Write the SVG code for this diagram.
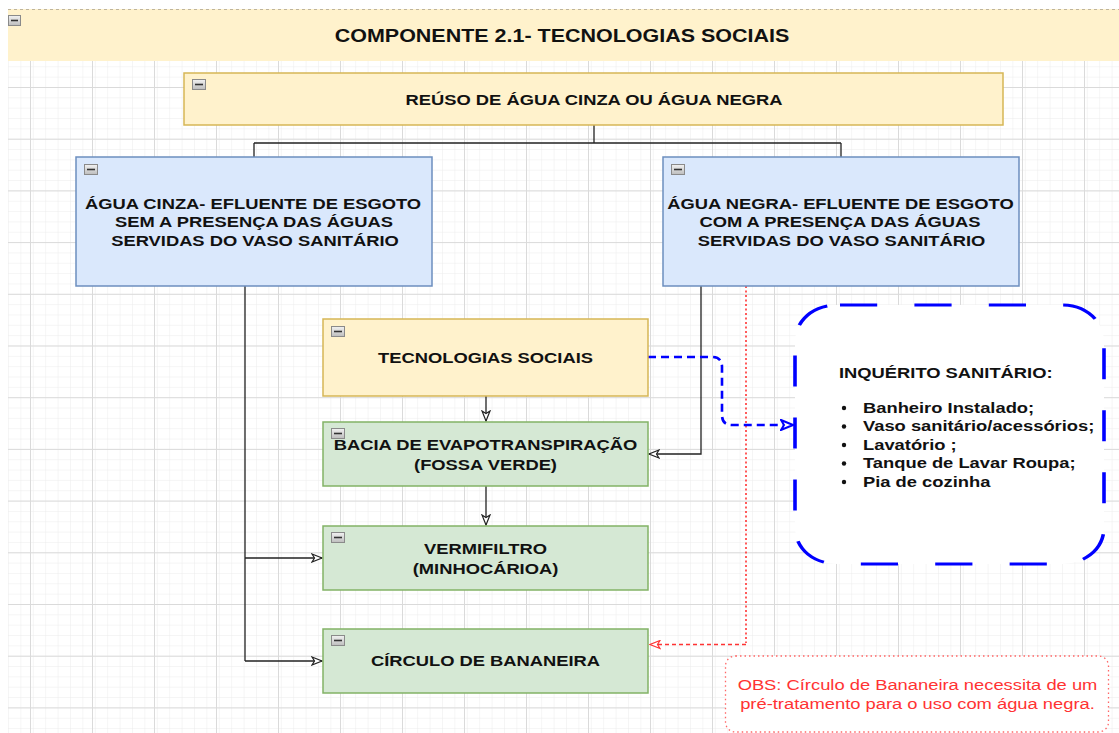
<svg xmlns="http://www.w3.org/2000/svg" width="1119" height="733" viewBox="0 0 1119 733">
<style>
.t{font-family:"Liberation Sans",Arial,sans-serif;font-weight:bold;font-size:15.3px;fill:#111;text-anchor:middle}
.tl{text-anchor:start}
.obs{font-family:"Liberation Sans",Arial,sans-serif;font-size:15.3px;fill:#ff3333;text-anchor:middle}
.yel{fill:#fff2cc;stroke:#d6b656;stroke-width:1.5}
.blu{fill:#dae8fc;stroke:#6c8ebf;stroke-width:1.5}
.grn{fill:#d5e8d4;stroke:#82b366;stroke-width:1.5}
.ic{fill:url(#icg);stroke:#8a8a8a;stroke-width:1}
.icm{stroke:#333;stroke-width:1.6}
.ln{fill:none;stroke:#222;stroke-width:1.3}
</style>
<defs>
<linearGradient id="icg" x1="0" y1="0" x2="0" y2="1"><stop offset="0" stop-color="#f2f2f2"/><stop offset="1" stop-color="#bdbdbd"/></linearGradient>
<pattern id="gmin" x="8" y="87" width="12.4" height="10.34" patternUnits="userSpaceOnUse">
<path d="M0,0 V10.34 M0,0 H12.4" fill="none" stroke="#ececec" stroke-width="1"/>
</pattern>
<pattern id="gmaj" x="30" y="87" width="62" height="51.7" patternUnits="userSpaceOnUse">
<path d="M0.5,0 V51.7 M0,0.5 H62" fill="none" stroke="#dadada" stroke-width="1"/>
</pattern>
<marker id="ab" viewBox="0 0 12 10" refX="11" refY="5" markerWidth="12" markerHeight="10" markerUnits="userSpaceOnUse" orient="auto">
<path d="M1,1 L11,5 L1,9 L3.5,5 Z" fill="#fff" stroke="#222" stroke-width="1.2"/>
</marker>
<marker id="ar" viewBox="0 0 12 10" refX="11" refY="5" markerWidth="12" markerHeight="10" markerUnits="userSpaceOnUse" orient="auto">
<path d="M1,1 L11,5 L1,9 L3.5,5 Z" fill="#fff" stroke="#ff3333" stroke-width="1.2"/>
</marker>
<marker id="abl" viewBox="0 0 14 12" refX="13" refY="6" markerWidth="14" markerHeight="12" markerUnits="userSpaceOnUse" orient="auto">
<path d="M1,1 L13,6 L1,11 L4,6 Z" fill="#fff" stroke="#0000ff" stroke-width="2"/>
</marker>
</defs>
<rect width="1119" height="733" fill="#fff"/>
<rect x="8" y="61" width="1111" height="672" fill="url(#gmin)"/>
<rect x="8" y="61" width="1111" height="672" fill="url(#gmaj)"/>

<g id="title">
<rect x="8" y="9" width="1111" height="52" fill="#fff2cc"/>
<line x1="8" y1="9.5" x2="1119" y2="9.5" stroke="#bfb49a" stroke-width="1" stroke-dasharray="3 3"/>
<rect class="ic" x="8.5" y="15.5" width="12" height="10"/><line class="icm" x1="11" y1="20.5" x2="18" y2="20.5"/>
<text class="t" transform="translate(562,41.5) scale(1.2,1)" style="font-size:17.9px">COMPONENTE 2.1- TECNOLOGIAS SOCIAIS</text>
</g>

<g id="connectors">
<path class="ln" d="M594,125 V143 M254,143 H841 M254,143 V157 M841,143 V157"/>
<path class="ln" d="M245,286 V661 M245,558 H322" marker-end="url(#ab)"/>
<path class="ln" d="M245,661 H322" marker-end="url(#ab)"/>
<path class="ln" d="M486,396 V421" marker-end="url(#ab)"/>
<path class="ln" d="M486,486 V525" marker-end="url(#ab)"/>
<path class="ln" d="M701,286 V454 H649" marker-end="url(#ab)"/>
<path d="M746,286 V643" fill="none" stroke="#ff3333" stroke-width="1.6" stroke-dasharray="2 2.5"/>
<path d="M746,644.5 H650" fill="none" stroke="#ff3333" stroke-width="1.6" stroke-dasharray="4 3" marker-end="url(#ar)"/>
<path d="M648,357 H712 Q722,357 722,367 V415 Q722,425 732,425 H793" fill="none" stroke="#0000ff" stroke-width="2.6" stroke-dasharray="8 5" marker-end="url(#abl)"/>
</g>

<g id="reuso">
<rect class="yel" x="184" y="73" width="819" height="52"/>
<rect class="ic" x="192.5" y="79.5" width="13" height="10"/><line class="icm" x1="195" y1="84.5" x2="203" y2="84.5"/>
<text class="t" transform="translate(594,104.5) scale(1.2,1)">REÚSO DE ÁGUA CINZA OU ÁGUA NEGRA</text>
</g>

<g id="agua-cinza">
<rect class="blu" x="76" y="157" width="356" height="129"/>
<rect class="ic" x="84.5" y="164.5" width="13" height="10"/><line class="icm" x1="87" y1="169.5" x2="95" y2="169.5"/>
<text class="t" transform="translate(253,208.5) scale(1.2,1)">ÁGUA CINZA- EFLUENTE DE ESGOTO</text>
<text class="t" transform="translate(254,227) scale(1.2,1)">SEM A PRESENÇA DAS ÁGUAS</text>
<text class="t" transform="translate(255,245.5) scale(1.2,1)">SERVIDAS DO VASO SANITÁRIO</text>
</g>

<g id="agua-negra">
<rect class="blu" x="663" y="157" width="356" height="129"/>
<rect class="ic" x="671.5" y="164.5" width="13" height="10"/><line class="icm" x1="674" y1="169.5" x2="682" y2="169.5"/>
<text class="t" transform="translate(840.5,208.5) scale(1.2,1)">ÁGUA NEGRA- EFLUENTE DE ESGOTO</text>
<text class="t" transform="translate(840,227) scale(1.2,1)">COM A PRESENÇA DAS ÁGUAS</text>
<text class="t" transform="translate(841.5,245.5) scale(1.2,1)">SERVIDAS DO VASO SANITÁRIO</text>
</g>

<g id="tecnologias">
<rect class="yel" x="323" y="319" width="325" height="77"/>
<rect class="ic" x="331.5" y="326.5" width="13" height="10"/><line class="icm" x1="334" y1="331.5" x2="342" y2="331.5"/>
<text class="t" transform="translate(485.5,362.5) scale(1.2,1)">TECNOLOGIAS SOCIAIS</text>
</g>

<g id="bacia">
<rect class="grn" x="323" y="422" width="325" height="64"/>
<text class="t" transform="translate(485.5,449.5) scale(1.2,1)">BACIA DE EVAPOTRANSPIRAÇÃO</text>
<text class="t" transform="translate(485.5,469.5) scale(1.2,1)">(FOSSA VERDE)</text>
<rect class="ic" x="331.5" y="428.5" width="13" height="10"/><line class="icm" x1="334" y1="433.5" x2="342" y2="433.5"/>
</g>

<g id="vermifiltro">
<rect class="grn" x="323" y="526" width="325" height="64"/>
<rect class="ic" x="331.5" y="532.5" width="13" height="10"/><line class="icm" x1="334" y1="537.5" x2="342" y2="537.5"/>
<text class="t" transform="translate(485.5,553.5) scale(1.2,1)">VERMIFILTRO</text>
<text class="t" transform="translate(485.5,573.5) scale(1.2,1)">(MINHOCÁRIOA)</text>
</g>

<g id="circulo">
<rect class="grn" x="323" y="629" width="325" height="64"/>
<rect class="ic" x="331.5" y="635.5" width="13" height="10"/><line class="icm" x1="334" y1="640.5" x2="342" y2="640.5"/>
<text class="t" transform="translate(485.5,665.5) scale(1.2,1)">CÍRCULO DE BANANEIRA</text>
</g>

<g id="inquerito">
<rect x="662.5" y="305" width="257.5" height="259" rx="35" ry="36" transform="scale(1.2,1)" fill="#fff" stroke="#0000ff" stroke-width="3" stroke-dasharray="31 31" stroke-dashoffset="59.5"/>
<text class="t tl" transform="translate(839,377.5) scale(1.2,1)">INQUÉRITO SANITÁRIO:</text>
<g fill="#111">
<circle cx="844" cy="408" r="2.2"/><circle cx="844" cy="426.5" r="2.2"/><circle cx="844" cy="445" r="2.2"/><circle cx="844" cy="463.5" r="2.2"/><circle cx="844" cy="482" r="2.2"/>
</g>
<text class="t tl" transform="translate(863,412.5) scale(1.2,1)">Banheiro Instalado;</text>
<text class="t tl" transform="translate(863,431) scale(1.2,1)">Vaso sanitário/acessórios;</text>
<text class="t tl" transform="translate(863,449.5) scale(1.2,1)">Lavatório ;</text>
<text class="t tl" transform="translate(863,468) scale(1.2,1)">Tanque de Lavar Roupa;</text>
<text class="t tl" transform="translate(863,486.5) scale(1.2,1)">Pia de cozinha</text>
</g>

<g id="obs">
<rect x="725.5" y="656" width="383" height="76" rx="10" ry="10" fill="#fff" stroke="#ff6666" stroke-width="1.3" stroke-dasharray="1.5 3"/>
<text class="obs" transform="translate(917.5,689.5) scale(1.2,1)">OBS: Círculo de Bananeira necessita de um</text>
<text class="obs" transform="translate(917.5,708.5) scale(1.2,1)">pré-tratamento para o uso com água negra.</text>
</g>
</svg>
